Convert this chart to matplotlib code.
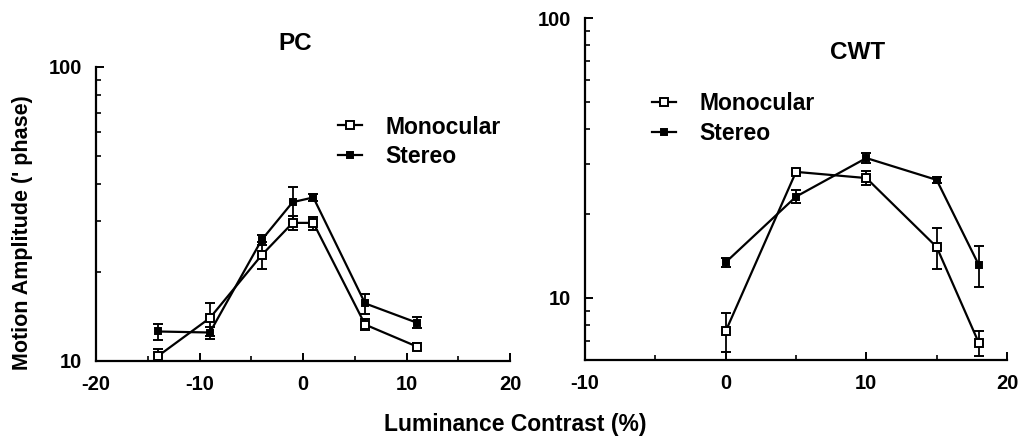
import matplotlib
matplotlib.use("Agg")
import matplotlib.pyplot as plt
from matplotlib.ticker import FixedLocator, NullFormatter, FixedFormatter
import numpy as np

plt.rcParams['font.family'] = ['Liberation Sans', 'DejaVu Sans']

# PC panel
pc_x_mono = [-14, -9, -4, -1, 1, 6, 11]
pc_y_mono = [10.4, 14.0, 22.9, 29.5, 29.5, 13.3, 11.2]
pc_err_mono = [0.6, 1.8, 2.4, 1.6, 1.5, 0.6, 0.3]
pc_x_stereo = [-14, -9, -4, -1, 1, 6, 11]
pc_y_stereo = [12.6, 12.5, 25.8, 34.7, 36.0, 15.7, 13.5]
pc_err_stereo = [0.8, 0.6, 1.0, 4.5, 1.0, 1.2, 0.6]

# CWT panel
cwt_x_mono = [0, 5, 10, 15, 18]
cwt_y_mono = [7.6, 28.2, 26.8, 15.2, 6.9]
cwt_err_mono = [1.2, 0.6, 1.5, 2.5, 0.7]
cwt_x_stereo = [0, 5, 10, 15, 18]
cwt_y_stereo = [13.4, 23.0, 31.6, 26.4, 13.1]
cwt_err_stereo = [0.5, 1.2, 1.3, 0.6, 2.2]

series_labels = ["Monocular", "Stereo"]

fig = plt.figure(figsize=(10.19, 4.38), dpi=100)
ax1 = fig.add_axes([96/1019, 1-361/438, 414/1019, 294/438])
ax2 = fig.add_axes([585/1019, 1-360/438, 422/1019, 342/438])

def style(ax, xlim, ylim, xmaj, xmin):
    ax.set_yscale('log')
    ax.set_xlim(*xlim)
    ax.set_ylim(*ylim)
    for s in ['top', 'right']:
        ax.spines[s].set_visible(False)
    for s in ['left', 'bottom']:
        ax.spines[s].set_linewidth(1.6)
    ax.xaxis.set_major_locator(FixedLocator(xmaj))
    ax.xaxis.set_minor_locator(FixedLocator(xmin))
    ax.xaxis.set_major_formatter(FixedFormatter(["%d" % v for v in xmaj]))
    ax.yaxis.set_major_locator(FixedLocator([10, 100]))
    ax.yaxis.set_major_formatter(FixedFormatter(['10', '100']))
    minors = [v for d in (1, 10) for v in np.arange(2, 10) * d if ylim[0] < v < ylim[1]]
    ax.yaxis.set_minor_locator(FixedLocator(minors))
    ax.yaxis.set_minor_formatter(NullFormatter())
    ax.tick_params(axis='both', which='major', direction='in', length=6, width=1.4,
                   labelsize=14.5)
    ax.tick_params(axis='both', which='minor', direction='in', length=3.5, width=1.2)
    ax.tick_params(axis='x', pad=10)
    ax.tick_params(axis='y', pad=10)
    for t in ax.get_xticklabels() + ax.get_yticklabels():
        t.set_fontweight('bold')

def plot_series(ax, x, y, e, filled, label):
    return ax.errorbar(x, y, yerr=e, color='black', lw=1.6, marker='s',
                       ms=4.8 if filled else 6,
                       mfc='black' if filled else 'white', mec='black', mew=1.4,
                       capsize=3.5, capthick=1.3, elinewidth=1.3, label=label,
                       zorder=3)

def add_legend(ax, handles, anchor):
    leg = ax.legend(handles=handles, labels=series_labels, loc='upper left',
                    bbox_to_anchor=anchor, frameon=False, fontsize=16.5,
                    handlelength=1.05, markerscale=0.85, handletextpad=1.0,
                    labelspacing=0.3, borderpad=0, borderaxespad=0)
    for t in leg.get_texts():
        t.set_fontweight('bold')
    return leg

style(ax1, (-20, 20), (10, 100), [-20, -10, 0, 10, 20], [-15, -5, 5, 15])
m1 = plot_series(ax1, pc_x_mono, pc_y_mono, pc_err_mono, False, series_labels[0])
s1 = plot_series(ax1, pc_x_stereo, pc_y_stereo, pc_err_stereo, True, series_labels[1])
add_legend(ax1, [m1[0], s1[0]], (0.585, 0.835))
fig.text(295/1019, 1-44/438, "PC", fontsize=17.5, fontweight='bold',
         ha='center', va='center')

style(ax2, (-10, 20), (6, 100), [-10, 0, 10, 20], [-5, 5, 15])
m2 = plot_series(ax2, cwt_x_mono, cwt_y_mono, cwt_err_mono, False, series_labels[0])
s2 = plot_series(ax2, cwt_x_stereo, cwt_y_stereo, cwt_err_stereo, True, series_labels[1])
add_legend(ax2, [m2[0], s2[0]], (0.159, 0.783))
ax2.text(0.647, 0.90, "CWT", transform=ax2.transAxes, fontsize=17.5,
         fontweight='bold', ha='center', va='center')

fig.text(0.0216, 0.468, "Motion Amplitude (' phase)", rotation=90, fontsize=15.5,
         fontweight='bold', ha='center', va='center')
fig.text(0.506, 0.03, "Luminance Contrast (%)", fontsize=16.5, fontweight='bold',
         ha='center', va='center')

fig.savefig("out.png", dpi=100)
